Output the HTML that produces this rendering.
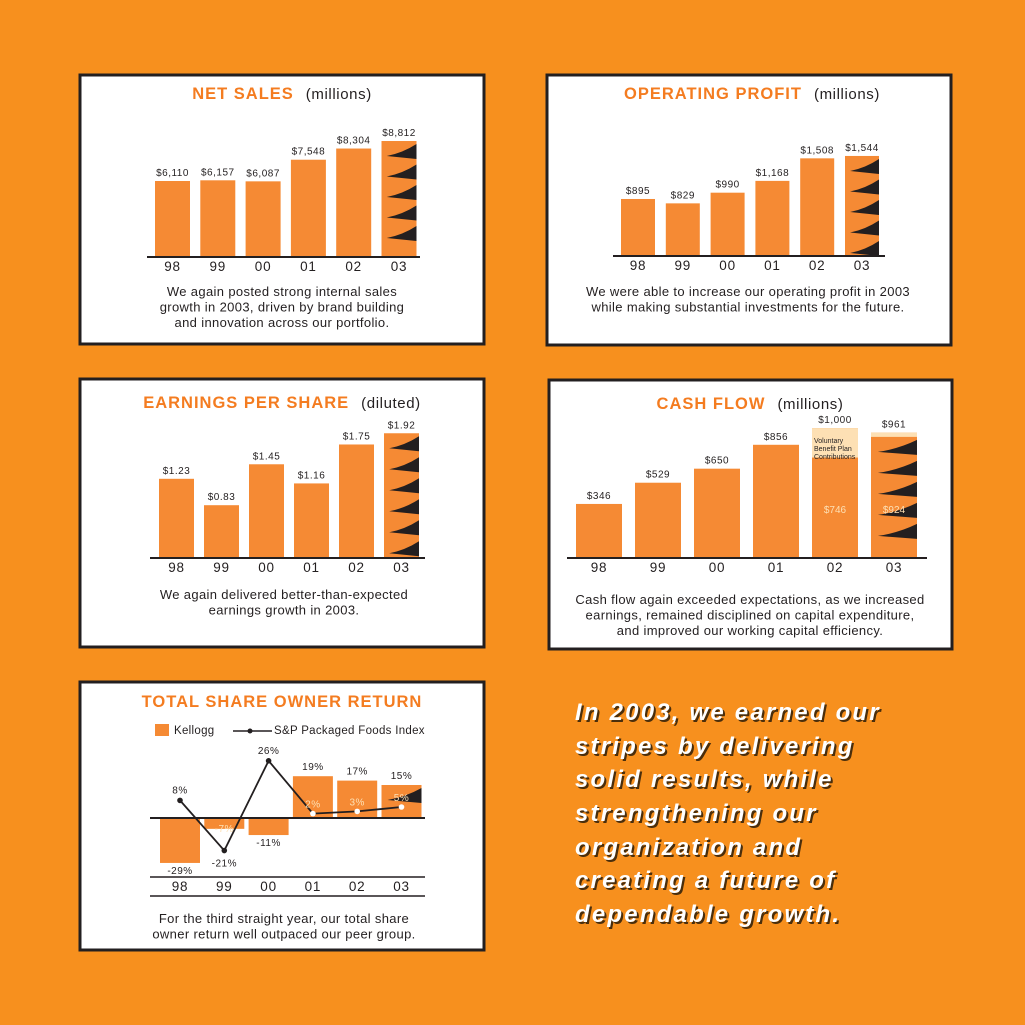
<!DOCTYPE html>
<html><head><meta charset="utf-8">
<style>
html,body{margin:0;padding:0;background:#f7901e;}
svg{display:block;font-family:"Liberation Sans",sans-serif;}
</style></head>
<body>
<svg id="root" width="1025" height="1025" viewBox="0 0 1025 1025" xmlns="http://www.w3.org/2000/svg">
<rect x="0" y="0" width="1025" height="1025" fill="#f7901e"/>
<g id="panels"></g>
<g font-size="24" font-weight="bold" font-style="italic" fill="#4a2e0c" letter-spacing="2.2" transform="translate(2,2)">
<text x="575" y="720">In 2003, we earned our</text>
<text x="575" y="754">stripes by delivering</text>
<text x="575" y="787">solid results, while</text>
<text x="575" y="821">strengthening our</text>
<text x="575" y="855">organization and</text>
<text x="575" y="888">creating a future of</text>
<text x="575" y="922">dependable growth.</text>
</g>
<g font-size="24" font-weight="bold" font-style="italic" fill="#fff" letter-spacing="2.2">
<text x="575" y="720">In 2003, we earned our</text>
<text x="575" y="754">stripes by delivering</text>
<text x="575" y="787">solid results, while</text>
<text x="575" y="821">strengthening our</text>
<text x="575" y="855">organization and</text>
<text x="575" y="888">creating a future of</text>
<text x="575" y="922">dependable growth.</text>
</g>
</svg>
<script>
const years = ["98","99","00","01","02","03"];
const netSales = [6110,6157,6087,7548,8304,8812];
const netSalesLabels = ["$6,110","$6,157","$6,087","$7,548","$8,304","$8,812"];
const opProfit = [895,829,990,1168,1508,1544];
const opProfitLabels = ["$895","$829","$990","$1,168","$1,508","$1,544"];
const eps = [1.23,0.83,1.45,1.16,1.75,1.92];
const epsLabels = ["$1.23","$0.83","$1.45","$1.16","$1.75","$1.92"];
const cashFlow = [346,529,650,856,1000,961];
const cashFlowBase = [346,529,650,856,746,924];
const cashFlowLabels = ["$346","$529","$650","$856","$1,000","$961"];
const tsrKellogg = [-29,-7,-11,19,17,15];
const tsrIndex = [8,-21,26,2,3,5];

const NS="http://www.w3.org/2000/svg";
const root=document.getElementById('panels');
function mk(tag,attrs,parent,text){const e=document.createElementNS(NS,tag);for(const k in attrs)e.setAttribute(k,attrs[k]);if(text!==undefined)e.textContent=text;(parent||root).appendChild(e);return e;}
const BAR="#f58a34";

function panel(x,y,w,h,name){
  const g=mk('g',{});
  
  
  const r=mk('rect',{x:x,y:y,width:w,height:h,fill:'#fff',stroke:'#231f20','stroke-width':3},g);
  
  
  return g;
}
function title(g,cx,y,bold,light){
  const t=mk('text',{x:cx,y:y,'text-anchor':'middle','font-size':16.5},g);
  
  
  mk('tspan',{fill:'#f47c20','font-weight':'bold','letter-spacing':1},t,bold);
  if(light){mk('tspan',{fill:'#231f20','font-size':15,dx:12,'letter-spacing':0.6},t,light);}
}
function caption(g,cx,y0,lines){
  lines.forEach((l,i)=>{const t=mk('text',{x:cx,y:y0+i*15.5,'text-anchor':'middle','font-size':13,'letter-spacing':0.35,fill:'#231f20'},g,l);
  
  });
}
function stripes(g,x,y0,y1,w,step){
  for(let y=y0+3;y+14<=y1;y+=step){
    const p=mk('path',{d:`M${x+w} ${y} L${x+w} ${y+15} L${x+w*0.15} ${y+12} Q${x+w*0.6} ${y+9} ${x+w} ${y} Z`,fill:'#231f20'},g);
    
    
  }
}
function drawChart(g,o){
  const yS=v=>o.base-(v-o.v0)*o.k;
  o.vals.forEach((v,i)=>{
    const x=o.x0+i*o.pitch;
    const top=yS(v);
    const r=mk('rect',{x:x,y:top,width:o.bw,height:o.base-top,fill:BAR},g);
    
    
    if(o.sub && o.sub[i]<v){
      const st=yS(o.sub[i]);
      const c=mk('rect',{x:x,y:top,width:o.bw,height:st-top,fill:'#fde0b4'},g);
      
      
    }
    const l=mk('text',{x:x+o.bw/2,y:top-5,'text-anchor':'middle','font-size':10,'letter-spacing':0.5,fill:'#231f20'},g,o.labels[i]);
    
    
    const yl=mk('text',{x:x+o.bw/2,y:o.base+14,'text-anchor':'middle','font-size':13.5,'letter-spacing':0.8,fill:'#231f20'},g,years[i]);
    
    
  });
  const i=o.vals.length-1,x=o.x0+i*o.pitch;
  const top=yS(o.sub?o.sub[i]:o.vals[i]);
  stripes(g,x,top,o.base,o.bw,o.step);
  const ax=mk('line',{x1:o.ax1,x2:o.ax2,y1:o.base,y2:o.base,stroke:'#231f20','stroke-width':2},g);
  
  
}

// Net sales
let g=panel(80,75,404,269,'net-sales-panel');
title(g,282,99,'NET SALES','(millions)');
drawChart(g,{vals:netSales,labels:netSalesLabels,x0:155,pitch:45.3,bw:35,base:257,v0:975,k:0.0148,ax1:147,ax2:420,step:20.5});
caption(g,282,296,['We again posted strong internal sales','growth in 2003, driven by brand building','and innovation across our portfolio.']);

// Operating profit
g=panel(547,75,404,270,'operating-profit-panel');
title(g,752,99,'OPERATING PROFIT','(millions)');
drawChart(g,{vals:opProfit,labels:opProfitLabels,x0:621,pitch:44.8,bw:34,base:256,v0:35,k:0.0663,ax1:613,ax2:885,step:20.5});
caption(g,748,296,['We were able to increase our operating profit in 2003','while making substantial investments for the future.']);

// EPS
g=panel(80,379,404,268,'eps-panel');
title(g,282,408,'EARNINGS PER SHARE','(diluted)');
drawChart(g,{vals:eps,labels:epsLabels,x0:159,pitch:45,bw:35,base:558,v0:0.03,k:66,ax1:150,ax2:425,step:21});
caption(g,284,599,['We again delivered better-than-expected','earnings growth in 2003.']);

// Cash flow
g=panel(549,380,403,269,'cash-flow-panel');
title(g,750,409,'CASH FLOW','(millions)');
drawChart(g,{vals:cashFlow,sub:cashFlowBase,labels:cashFlowLabels,x0:576,pitch:59,bw:46,base:558,v0:-120,k:0.116,ax1:567,ax2:927,step:21});
[[4,'$746'],[5,'$924']].forEach(([i,t])=>{
  const x=576+i*59+23;
  const e=mk('text',{x:x,y:513,'text-anchor':'middle','font-size':10,fill:'#fde0b4'},g,t);
  
  
});
['Voluntary','Benefit Plan','Contributions'].forEach((t,j)=>{
  const e=mk('text',{x:814,y:443+j*8,'font-size':7,fill:'#231f20'},g,t);
  
  
});
caption(g,750,604,['Cash flow again exceeded expectations, as we increased','earnings, remained disciplined on capital expenditure,','and improved our working capital efficiency.']);

// TSR
g=panel(80,682,404,268,'tsr-panel');
title(g,282,707,'TOTAL SHARE OWNER RETURN');
const lg=mk('g',{},g);


mk('rect',{x:155,y:724,width:14,height:12,fill:BAR},lg);
mk('text',{x:174,y:734,'font-size':11.5,'letter-spacing':0.3,fill:'#231f20'},lg,'Kellogg');
mk('line',{x1:233,x2:272,y1:731,y2:731,stroke:'#231f20','stroke-width':1.5},lg);
mk('circle',{cx:250,cy:731,r:2.5,fill:'#231f20'},lg);
mk('text',{x:274,y:734,'font-size':11.5,'letter-spacing':0.3,fill:'#231f20'},lg,'S&P Packaged Foods Index');
const zero=818,posK=2.2,negK=1.55,tx0=160,tp=44.3,tbw=40;
const ty=v=>zero-v*(v>=0?posK:negK);
tsrKellogg.forEach((v,i)=>{
  const x=tx0+i*tp;
  const y=ty(v);
  const r=mk('rect',{x:x,y:Math.min(y,zero),width:tbw,height:Math.abs(zero-y),fill:BAR},g);
  
  
  const inside=(i===1);
  const lab=mk('text',{x:x+tbw/2,y:v>=0?y-6:(inside?zero+14:y+11),'text-anchor':'middle','font-size':10,'letter-spacing':0.5,fill:inside?'#fde0b4':'#231f20'},g,v+'%');
  
  
  const yl=mk('text',{x:x+tbw/2,y:891,'text-anchor':'middle','font-size':13.5,'letter-spacing':0.8,fill:'#231f20'},g,years[i]);
  
  
});
stripes(g,tx0+5*tp,ty(tsrKellogg[5]),zero,tbw,21);
let pts=tsrIndex.map((v,i)=>[tx0+i*tp+tbw/2,ty(v)]);
const pl=mk('polyline',{points:pts.map(p=>p.join(',')).join(' '),fill:'none',stroke:'#231f20','stroke-width':1.8},g);


tsrIndex.forEach((v,i)=>{
  const white=i>=3;
  const c=mk('circle',{cx:pts[i][0],cy:pts[i][1],r:2.8,fill:white?'#fff':'#231f20'},g);
  
  
  const t=mk('text',{x:pts[i][0],y:white?pts[i][1]-6:(v<0?pts[i][1]+16:pts[i][1]-7),'text-anchor':'middle','font-size':10,'letter-spacing':0.5,fill:white?'#fde0b4':'#231f20'},g,v+'%');
  
  
});
const za=mk('line',{x1:150,x2:425,y1:zero,y2:zero,stroke:'#231f20','stroke-width':2},g);


[877,896].forEach(y=>{const l=mk('line',{x1:150,x2:425,y1:y,y2:y,stroke:'#231f20','stroke-width':1.6},g);

});
caption(g,284,923,['For the third straight year, our total share','owner return well outpaced our peer group.']);
</script>
</body></html>
